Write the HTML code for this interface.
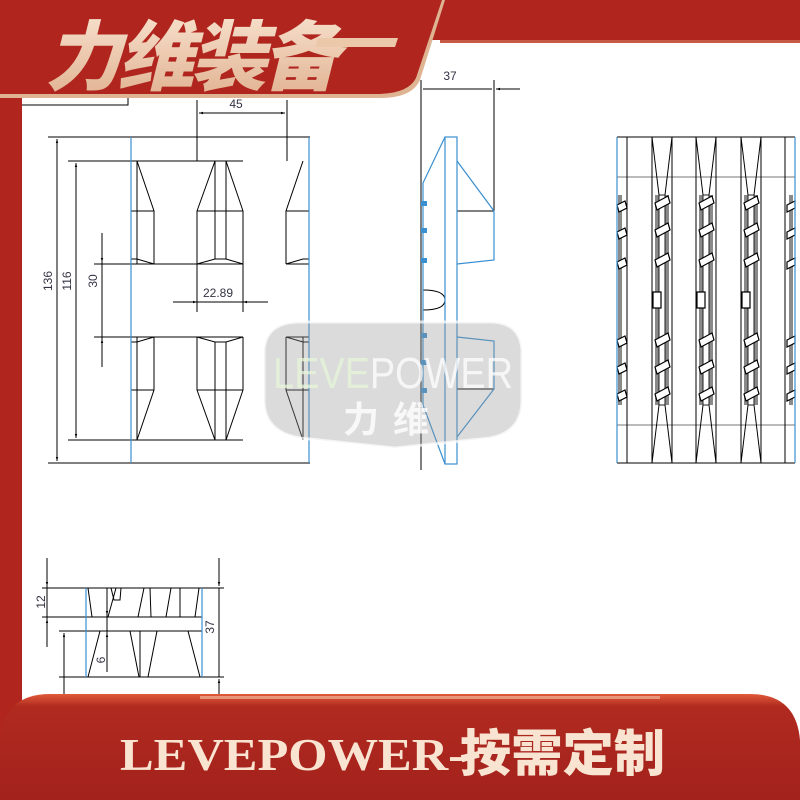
<!DOCTYPE html>
<html><head><meta charset="utf-8"><style>
html,body{margin:0;padding:0;width:800px;height:800px;overflow:hidden;background:#fff}
svg{display:block}
</style></head><body>
<svg width="800" height="800" viewBox="0 0 800 800" xmlns="http://www.w3.org/2000/svg">
<defs>
<linearGradient id="gt" x1="0" y1="0" x2="0" y2="1"><stop offset="0" stop-color="#fbe9d8"/><stop offset="1" stop-color="#dfae8c"/></linearGradient>
<linearGradient id="bb" x1="0" y1="0" x2="0" y2="1"><stop offset="0" stop-color="#e05a3a"/><stop offset="0.12" stop-color="#b02a20"/><stop offset="1" stop-color="#a3221c"/></linearGradient>
<marker id="a" viewBox="0 0 10 10" refX="10" refY="5" markerWidth="8" markerHeight="4" orient="auto-start-reverse"><path d="M0,2 L10,5 L0,8z" fill="#000"/></marker>
</defs>
<rect width="800" height="800" fill="#fff"/>
<rect x="0" y="40" width="22" height="760" fill="#b0261f"/>
<rect x="0" y="0" width="800" height="40" fill="#b0261f"/>
<rect x="440" y="40" width="360" height="3" fill="#c55a45"/>
<g fill="none" stroke="#000" stroke-width="1">
<polyline points="22,105 128,105 128,96"/>
<!-- FRONT VIEW -->
<line x1="48" y1="137" x2="310" y2="137"/>
<line x1="48" y1="463" x2="310" y2="463"/>
<line x1="68" y1="161" x2="243" y2="161"/>
<line x1="68" y1="440" x2="243" y2="440"/>
<line x1="94" y1="264" x2="243" y2="264"/><line x1="286" y1="264" x2="309" y2="264"/>
<line x1="94" y1="337" x2="243" y2="337"/><line x1="286" y1="337" x2="309" y2="337"/>
<line x1="57" y1="139" x2="57" y2="461" marker-start="url(#a)" marker-end="url(#a)"/>
<line x1="76" y1="163" x2="76" y2="438" marker-start="url(#a)" marker-end="url(#a)"/>
<line x1="102" y1="233" x2="102" y2="262" marker-end="url(#a)"/>
<line x1="102" y1="367" x2="102" y2="339" marker-end="url(#a)"/>
<line x1="102" y1="262" x2="102" y2="339"/>
<line x1="173" y1="302" x2="197" y2="302" marker-end="url(#a)"/>
<line x1="268" y1="302" x2="243" y2="302" marker-end="url(#a)"/>
<line x1="197" y1="302" x2="243" y2="302"/>
<line x1="197" y1="264" x2="197" y2="312"/><line x1="243" y1="264" x2="243" y2="312"/>
<line x1="197" y1="100" x2="197" y2="161"/><line x1="287" y1="100" x2="287" y2="161"/>
<line x1="199" y1="113" x2="285" y2="113" marker-start="url(#a)" marker-end="url(#a)"/>
<polyline points="137,161 154,211 154,264"/><line x1="131" y1="211" x2="154" y2="211"/><polyline points="131,259 137,259 154,264"/><line x1="137" y1="161" x2="137" y2="264"/>
<polyline points="137,440 154,390 154,337"/><line x1="131" y1="390" x2="154" y2="390"/><polyline points="131,342 137,342 154,337"/><line x1="137" y1="337" x2="137" y2="440"/>
<polyline points="197,211 215,161 226,161 243,211"/><line x1="197" y1="211" x2="243" y2="211"/><line x1="197" y1="211" x2="197" y2="264"/><line x1="243" y1="211" x2="243" y2="264"/>
<line x1="215" y1="161" x2="215" y2="259"/><line x1="226" y1="161" x2="226" y2="259"/><polyline points="197,264 215,259 226,259 243,264"/>
<polyline points="197,390 215,440 226,440 243,390"/><line x1="197" y1="390" x2="243" y2="390"/><line x1="197" y1="390" x2="197" y2="337"/><line x1="243" y1="390" x2="243" y2="337"/>
<line x1="215" y1="440" x2="215" y2="342"/><line x1="226" y1="440" x2="226" y2="342"/><polyline points="197,337 215,342 226,342 243,337"/>
<polyline points="303,161 286,211 286,264"/><line x1="286" y1="211" x2="309" y2="211"/><polyline points="286,264 303,259 309,259"/>
<polyline points="303,440 286,390 286,337"/><line x1="286" y1="390" x2="309" y2="390"/><polyline points="286,337 303,342 309,342"/><line x1="303" y1="337" x2="303" y2="440"/>
<!-- SIDE VIEW -->
<line x1="421" y1="80" x2="421" y2="470"/><line x1="494" y1="80" x2="494" y2="211"/>
<line x1="423" y1="89" x2="492" y2="89"/>
<line x1="520" y1="89" x2="496" y2="89" marker-end="url(#a)"/>
<line x1="457" y1="211" x2="494" y2="211"/><line x1="457" y1="389" x2="494" y2="389"/>
<path d="M423,290 Q445,290 445,300 Q445,310 423,310"/>
<!-- RIGHT VIEW -->
<line x1="617" y1="137" x2="795" y2="137"/><line x1="617" y1="463" x2="795" y2="463"/>
<line x1="617" y1="177" x2="795" y2="177" stroke="#777"/><line x1="617" y1="425" x2="795" y2="425" stroke="#777"/>
<line x1="652" y1="137" x2="652" y2="463"/><line x1="672" y1="137" x2="672" y2="463"/>
<line x1="696" y1="137" x2="696" y2="463"/><line x1="716" y1="137" x2="716" y2="463"/>
<line x1="741" y1="137" x2="741" y2="463"/><line x1="761" y1="137" x2="761" y2="463"/>
<line x1="785" y1="137" x2="785" y2="463"/><line x1="627" y1="137" x2="627" y2="463"/>
<!-- BOTTOM VIEW -->
<line x1="42" y1="588" x2="224" y2="588"/><line x1="42" y1="617" x2="202" y2="617"/>
<line x1="59" y1="631" x2="202" y2="631"/><line x1="59" y1="677" x2="224" y2="677"/>
<line x1="47" y1="558" x2="47" y2="586" marker-end="url(#a)"/><line x1="47" y1="647" x2="47" y2="619" marker-end="url(#a)"/><line x1="47" y1="586" x2="47" y2="619"/>
<line x1="219" y1="558" x2="219" y2="586" marker-end="url(#a)"/><line x1="219" y1="588" x2="219" y2="677"/><line x1="219" y1="700" x2="219" y2="679" marker-end="url(#a)"/>
<line x1="107" y1="588" x2="107" y2="672"/><line x1="107" y1="600" x2="107" y2="615" marker-end="url(#a)"/><line x1="107" y1="650" x2="107" y2="633" marker-end="url(#a)"/>
<line x1="64" y1="633" x2="64" y2="695"/><line x1="64" y1="650" x2="64" y2="633" marker-end="url(#a)"/>
<polyline points="88,588 92,617 108,617 116,588"/><polyline points="111,588 114,600 120,600 121,588"/>
<polyline points="138,617 144,588 150,588 151,617"/><polyline points="166,617 171,588 180,588 180,617"/>
<polyline points="195,617 199,588 202,588"/>
<line x1="100" y1="631" x2="88" y2="677"/><line x1="130" y1="631" x2="139" y2="677"/><line x1="140" y1="631" x2="140" y2="677"/><line x1="157" y1="631" x2="148" y2="677"/><line x1="188" y1="631" x2="200" y2="677"/>
</g>
<!-- right view clip details -->
<g stroke-width="1">
<g id="clip">
<rect x="655" y="195" width="14" height="210" fill="#8a8a8a" stroke="none"/>
<rect x="659" y="195" width="6" height="210" fill="#fff" stroke="#222"/>
<path d="M652,137 L659,195 M672,137 L665,195 M652,463 L659,405 M672,463 L665,405" stroke="#000" fill="none"/>
<g fill="#fff" stroke="#000" stroke-width="1.2">
<path d="M655,203 l13,-7 l2,7 l-13,7z"/><path d="M655,230 l13,-7 l2,7 l-13,7z"/><path d="M655,260 l13,-7 l2,7 l-13,7z"/>
<path d="M655,340 l13,-7 l2,7 l-13,7z"/><path d="M655,367 l13,-7 l2,7 l-13,7z"/><path d="M655,394 l13,-7 l2,7 l-13,7z"/>
<path d="M653,292 h8 v16 h-8z" stroke="#000"/>
</g>
</g>
<use href="#clip" transform="translate(44,0)"/>
<use href="#clip" transform="translate(89,0)"/>
<rect x="618" y="195" width="4" height="210" fill="#8a8a8a"/>
<rect x="789" y="195" width="4" height="210" fill="#8a8a8a"/>
<g fill="#fff" stroke="#000" stroke-width="1.2">
<path d="M617,205 l8,-4 l2,7 l-8,4z"/><path d="M617,232 l8,-4 l2,7 l-8,4z"/><path d="M617,262 l8,-4 l2,7 l-8,4z"/>
<path d="M617,340 l8,-4 l2,7 l-8,4z"/><path d="M617,367 l8,-4 l2,7 l-8,4z"/><path d="M617,394 l8,-4 l2,7 l-8,4z"/>
<path d="M787,205 l8,-4 l0,7 l-8,4z"/><path d="M787,232 l8,-4 l0,7 l-8,4z"/><path d="M787,262 l8,-4 l0,7 l-8,4z"/>
<path d="M787,340 l8,-4 l0,7 l-8,4z"/><path d="M787,367 l8,-4 l0,7 l-8,4z"/><path d="M787,394 l8,-4 l0,7 l-8,4z"/>
</g>
</g>
<!-- blue lines -->
<g fill="none" stroke="#3a8fd0" stroke-width="1.2">
<line x1="131" y1="137" x2="131" y2="463"/><line x1="309" y1="137" x2="309" y2="463"/>
<rect x="445" y="137" width="12" height="327"/>
<polyline points="445,137 423,183 423,405 445,464"/>
<polyline points="457,161 494,211 494,260 457,264"/>
<polyline points="457,337 494,341 494,389 457,437"/>
<line x1="617" y1="137" x2="617" y2="463"/><line x1="795" y1="137" x2="795" y2="463"/>
<line x1="86" y1="588" x2="86" y2="677"/><line x1="202" y1="588" x2="202" y2="677"/>
</g>
<g fill="#3a8fd0"><rect x="421" y="201" width="6" height="5"/><rect x="421" y="228" width="6" height="5"/><rect x="421" y="258" width="6" height="5"/><rect x="421" y="333" width="6" height="5"/><rect x="421" y="360" width="6" height="5"/><rect x="421" y="388" width="6" height="5"/></g>
<g font-family="Liberation Sans, sans-serif" font-size="12" fill="#334">
<text x="203" y="297">22.89</text>
<text x="236" y="108" text-anchor="middle">45</text>
<text x="450" y="80" text-anchor="middle">37</text>
<text transform="translate(52,281) rotate(-90)" text-anchor="middle">136</text>
<text transform="translate(71,281) rotate(-90)" text-anchor="middle">116</text>
<text transform="translate(97,281) rotate(-90)" text-anchor="middle">30</text>
<text transform="translate(45,602) rotate(-90)" text-anchor="middle">12</text>
<text transform="translate(214,627) rotate(-90)" text-anchor="middle">37</text>
<text transform="translate(105,660) rotate(-90)" text-anchor="middle">6</text>
</g>
<!-- watermark -->
<path d="M300,322 L490,322 Q520,322 522,350 L522,400 Q522,432 490,438 L395,448 L300,438 Q264,432 264,400 L264,350 Q266,322 300,322Z" fill="#999" fill-opacity="0.35" stroke="#fff" stroke-opacity="0.7" stroke-width="3"/>
<text x="393" y="388" text-anchor="middle" font-family="Liberation Sans, sans-serif" font-size="44" fill="#fff" fill-opacity="0.75" textLength="240" lengthAdjust="spacingAndGlyphs"><tspan fill="#e6f5d8">LEVE</tspan>POWER</text>
<text x="393" y="432" text-anchor="middle" font-family="Noto Sans CJK SC, sans-serif" font-weight="bold" font-size="36" fill="#fff" fill-opacity="0.8" letter-spacing="14">力维</text>
<!-- top-left header -->
<path d="M0,0 L445,0 L420,80 Q412,98 380,98 L0,98Z" fill="#dfb493"/>
<path d="M0,0 L442,0 L416,78 Q408,94 376,94 L0,94Z" fill="#b0261f"/>
<text x="48" y="84" font-family="Noto Sans CJK SC, sans-serif" font-weight="900" font-size="76" fill="url(#gt)" transform="skewX(-14) translate(18,0)" letter-spacing="-4" textLength="290" lengthAdjust="spacingAndGlyphs">力维装备</text>
<path d="M318,38 L398,38 L395,47 L315,47Z" fill="#ecc8ab"/>
<!-- bottom banner -->
<path d="M0,800 L0,740 Q4,694 50,694 L750,694 Q796,694 800,740 L800,800Z" fill="url(#bb)"/>
<rect x="200" y="696" width="460" height="3" fill="#f4c6a8" opacity="0.6"/>
<text x="120" y="770" font-family="Liberation Serif, serif" font-weight="bold" font-size="46" fill="#f9e4d2" textLength="345" lengthAdjust="spacingAndGlyphs">LEVEPOWER-</text>
<text x="460" y="771" font-family="Noto Sans CJK SC, sans-serif" font-weight="900" font-size="50" fill="#f9e4d2" textLength="205" lengthAdjust="spacingAndGlyphs">按需定制</text>
</svg>
</body></html>
